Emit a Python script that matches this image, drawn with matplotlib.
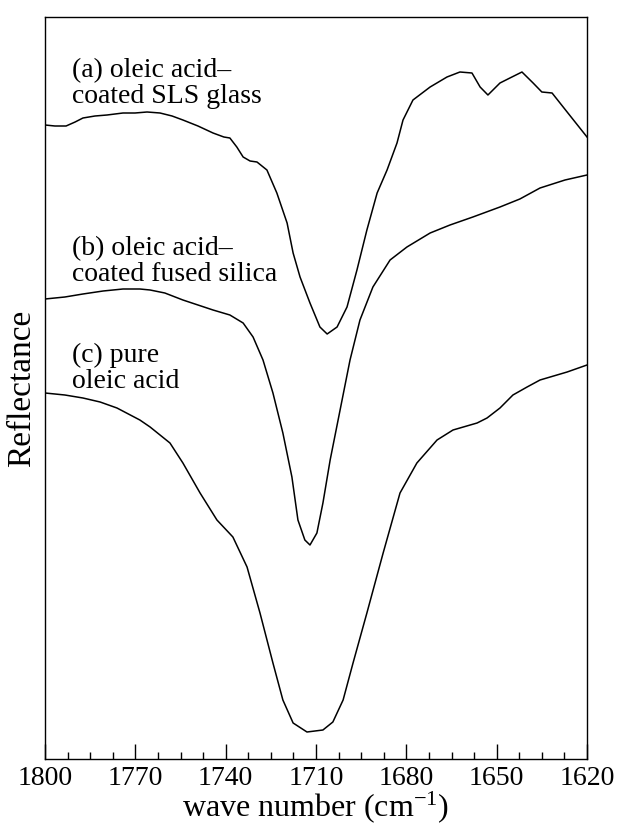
import matplotlib
matplotlib.use("Agg")
import matplotlib.pyplot as plt
from matplotlib.ticker import MultipleLocator

# ---- data ----
wn_a = [1800.0, 1796.7, 1793.0, 1790.0, 1787.4, 1783.4, 1779.4, 1774.1, 1770.1, 1766.1,
        1761.8, 1757.8, 1754.2, 1749.2, 1744.2, 1740.6, 1738.6, 1736.3, 1734.2, 1731.9,
        1729.6, 1726.3, 1723.0, 1719.6, 1717.6, 1715.3, 1712.0, 1708.7, 1706.3, 1703.0,
        1699.7, 1696.4, 1693.1, 1689.7, 1686.4, 1683.1, 1681.1, 1677.8, 1672.1, 1666.5,
        1662.2, 1658.2, 1655.5, 1652.9, 1648.9, 1645.6, 1641.6, 1637.9, 1635.0, 1631.6,
        1626.6, 1620.0]
refl_a = [634, 633, 633, 637, 641, 643, 644, 646, 646, 647,
          646, 643, 639, 633, 626, 622, 621, 612, 602, 598,
          597, 589, 566, 536, 506, 482, 456, 432, 425, 432,
          452, 489, 529, 566, 589, 616, 639, 659, 672, 682,
          687, 686, 672, 664, 676, 681, 687, 676, 667, 666,
          647, 622]

wn_b = [1800.0, 1793.4, 1787.4, 1780.7, 1774.1, 1768.5, 1765.1, 1760.2, 1754.2, 1749.2,
        1744.2, 1738.6, 1734.2, 1730.9, 1727.6, 1724.3, 1721.0, 1718.0, 1716.0, 1713.7,
        1712.0, 1709.7, 1707.7, 1705.3, 1702.0, 1698.7, 1695.4, 1691.1, 1685.4, 1679.8,
        1672.1, 1665.5, 1657.9, 1648.9, 1642.3, 1635.6, 1627.3, 1620.0]
refl_b = [460, 462, 465, 468, 470, 470, 469, 466, 459, 454,
          449, 444, 436, 422, 399, 366, 326, 282, 239, 219,
          214, 226, 256, 299, 349, 399, 439, 472, 499, 512,
          526, 534, 542, 552, 560, 571, 579, 584]

wn_c = [1800.0, 1793.4, 1787.4, 1781.7, 1776.1, 1768.5, 1765.1, 1758.5, 1754.2, 1748.5,
        1742.9, 1737.6, 1732.9, 1728.6, 1724.3, 1721.0, 1717.6, 1713.0, 1707.7, 1704.4,
        1701.0, 1697.7, 1693.1, 1687.7, 1682.1, 1676.5, 1669.8, 1664.5, 1656.5, 1653.2,
        1648.9, 1644.6, 1639.9, 1635.6, 1626.6, 1620.0]
refl_c = [366, 364, 361, 357, 351, 339, 332, 316, 296, 266,
          239, 222, 192, 146, 96, 59, 36, 27, 29, 37,
          59, 96, 146, 206, 266, 296, 319, 329, 336, 341,
          351, 364, 372, 379, 387, 394]

labels = ["(a) oleic acid\u2013\ncoated SLS glass",
          "(b) oleic acid\u2013\ncoated fused silica",
          "(c) pure\noleic acid"]
label_y = [675, 497, 391]

xticks = [1800, 1770, 1740, 1710, 1680, 1650, 1620]

# ---- plotting ----
plt.rcParams['font.family'] = ['Liberation Serif', 'DejaVu Serif']
plt.rcParams['mathtext.fontset'] = 'custom'
plt.rcParams['mathtext.rm'] = 'Liberation Serif'
plt.rcParams['mathtext.it'] = 'Liberation Serif'

fig = plt.figure(figsize=(6.19, 8.26), dpi=100)
ax = fig.add_axes([45/619, 67/826, 542/619, 742/826])

for wn, r in [(wn_a, refl_a), (wn_b, refl_b), (wn_c, refl_c)]:
    ax.plot(wn, r, color='black', lw=1.1, solid_joinstyle='round')

for lab, y in zip(labels, label_y):
    ax.text(1791, y, lab, fontsize=20, va='center', ha='left', linespacing=1.05)

ax.set_xlim(1800, 1620)
ax.set_ylim(0, 742)
ax.set_xticks(xticks)
ax.xaxis.set_minor_locator(MultipleLocator(7.5))
ax.tick_params(axis='x', which='major', direction='in', length=11, width=1, labelsize=20, pad=5)
ax.tick_params(axis='x', which='minor', direction='in', length=5, width=1)
ax.set_yticks([])
for s in ax.spines.values():
    s.set_linewidth(1.0)

ax.set_xlabel("wave number (cm$^{-1}$)", fontsize=23, labelpad=-1)
ax.set_ylabel("Reflectance", fontsize=24, labelpad=6)

fig.savefig("out.png", dpi=100)
